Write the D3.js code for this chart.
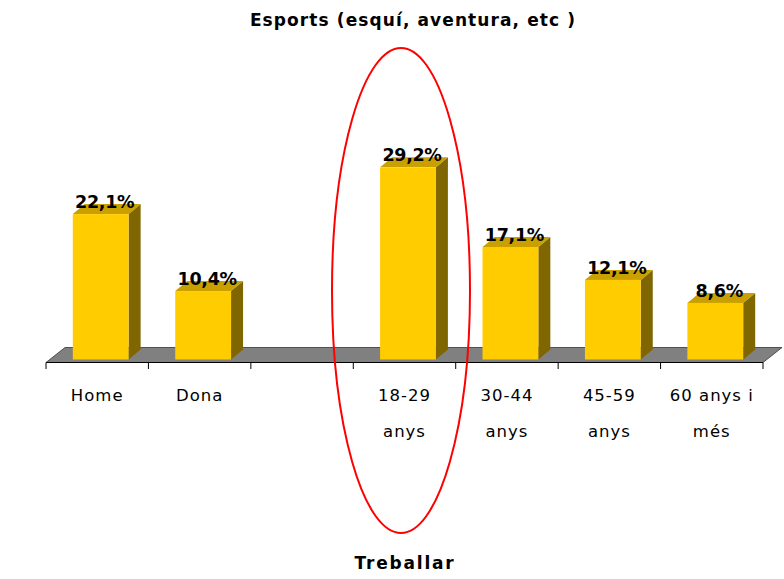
<!DOCTYPE html>
<html>
<head>
<meta charset="utf-8">
<script src="https://cdn.jsdelivr.net/npm/d3@7"></script>
<style>
  html, body { margin: 0; padding: 0; background: #fff; }
  svg { display: block; }
</style>
</head>
<body>
<svg id="chart" width="784" height="579"></svg>
<script>
// Share who practises sports (skiing, adventure...), by sex and age group
const categories = ["Home", "Dona", "", "18-29 anys", "30-44 anys", "45-59 anys", "60 anys i més"];
const categoryLines = [["Home"], ["Dona"], [""], ["18-29", "anys"], ["30-44", "anys"], ["45-59", "anys"], ["60 anys i", "més"]];
const values = [22.1, 10.4, null, 29.2, 17.1, 12.1, 8.6];
const valueLabels = ["22,1%", "10,4%", "", "29,2%", "17,1%", "12,1%", "8,6%"];
const title = "Esports (esquí, aventura, etc )";
const axisTitle = "Treballar";

const svg = d3.select("#chart");
const FONT = "'DejaVu Sans', Verdana, sans-serif";

// floor geometry (front edge and receding depth)
const frontY = 362.5;
const floorDX = 19, floorDY = -15;
const x = d3.scaleBand().domain(d3.range(categories.length)).range([46, 763]).padding(0);
const baseY = 359.5;           // bars stand slightly behind the floor front edge
const y = d3.scaleLinear().domain([0, 35]).range([baseY, baseY - 35 * 6.58]);
const barW = x.bandwidth() * 0.545;
const barShift = 3.5;
const depthDX = 12, depthDY = -10;

// title
svg.append("text")
  .attr("x", 413).attr("y", 26)
  .attr("text-anchor", "middle")
  .style("font-family", FONT).style("font-weight", "bold")
  .style("font-size", "17px").style("letter-spacing", "1.1px")
  .text(title);

// floor
const [fx0, fx1] = x.range();
svg.append("polygon")
  .attr("points", [[fx0, frontY], [fx0 + floorDX, frontY + floorDY], [fx1 + floorDX, frontY + floorDY], [fx1, frontY]].map(p => p.join(",")).join(" "))
  .attr("fill", "#808080").attr("stroke", "#333").attr("stroke-width", 0.8);

// category axis along the front edge of the floor
const axisG = svg.append("g");
axisG.append("line")
  .attr("x1", fx0).attr("x2", fx1).attr("y1", frontY).attr("y2", frontY)
  .attr("stroke", "#000").attr("stroke-width", 1);
const boundaries = d3.range(categories.length + 1).map(i => i < categories.length ? x(i) : fx1);
axisG.selectAll("line.tick").data(boundaries).join("line")
  .attr("class", "tick")
  .attr("x1", d => d).attr("x2", d => d)
  .attr("y1", frontY).attr("y2", frontY + 6.5)
  .attr("stroke", "#000").attr("stroke-width", 1);

const labelG = axisG.selectAll("text.cat").data(categoryLines).join("text")
  .attr("class", "cat")
  .attr("x", (d, i) => x(i) + x.bandwidth() / 2)
  .attr("y", 401)
  .attr("text-anchor", "middle")
  .style("font-family", FONT).style("font-size", "16.5px").style("letter-spacing", "1px")
  .attr("fill", "#000");
labelG.selectAll("tspan").data((d, i) => d.map(t => ({ t, i }))).join("tspan")
  .attr("x", d => x(d.i) + x.bandwidth() / 2)
  .attr("dy", (d, j) => j === 0 ? 0 : 36)
  .text(d => d.t);

// 3D bars
const barData = categories.map((c, i) => ({ i, v: values[i], label: valueLabels[i] })).filter(d => d.v != null);
const bars = svg.selectAll("g.bar").data(barData).join("g").attr("class", "bar");
const left = d => x(d.i) + (x.bandwidth() - barW) / 2 + barShift;

bars.append("polygon") // side face
  .attr("points", d => {
    const l = left(d), r = l + barW, t = y(d.v);
    return [[r, t], [r + depthDX, t + depthDY], [r + depthDX, baseY + depthDY], [r, baseY]].map(p => p.join(",")).join(" ");
  })
  .attr("fill", "#806600");
bars.append("polygon") // top face
  .attr("points", d => {
    const l = left(d), r = l + barW, t = y(d.v);
    return [[l, t], [l + depthDX, t + depthDY], [r + depthDX, t + depthDY], [r, t]].map(p => p.join(",")).join(" ");
  })
  .attr("fill", "#C9A000");
bars.append("rect") // front face
  .attr("x", left).attr("y", d => y(d.v))
  .attr("width", barW).attr("height", d => baseY - y(d.v))
  .attr("fill", "#FFCC00");

// value labels
bars.append("text")
  .attr("x", d => left(d) + barW / 2 + 4)
  .attr("y", d => y(d.v) - 6)
  .attr("text-anchor", "middle")
  .style("font-family", FONT).style("font-weight", "bold").style("font-size", "17.5px")
  .style("letter-spacing", "-0.3px")
  .attr("fill", "#000")
  .text(d => d.label);

// bottom title
svg.append("text")
  .attr("x", 405).attr("y", 569)
  .attr("text-anchor", "middle")
  .style("font-family", FONT).style("font-weight", "bold")
  .style("font-size", "17px").style("letter-spacing", "1.8px")
  .text(axisTitle);

// highlight around the youngest age group
svg.append("ellipse")
  .attr("cx", 401).attr("cy", 290.5).attr("rx", 69).attr("ry", 242.5)
  .attr("fill", "none").attr("stroke", "#FF0000").attr("stroke-width", 2);
</script>
</body>
</html>
